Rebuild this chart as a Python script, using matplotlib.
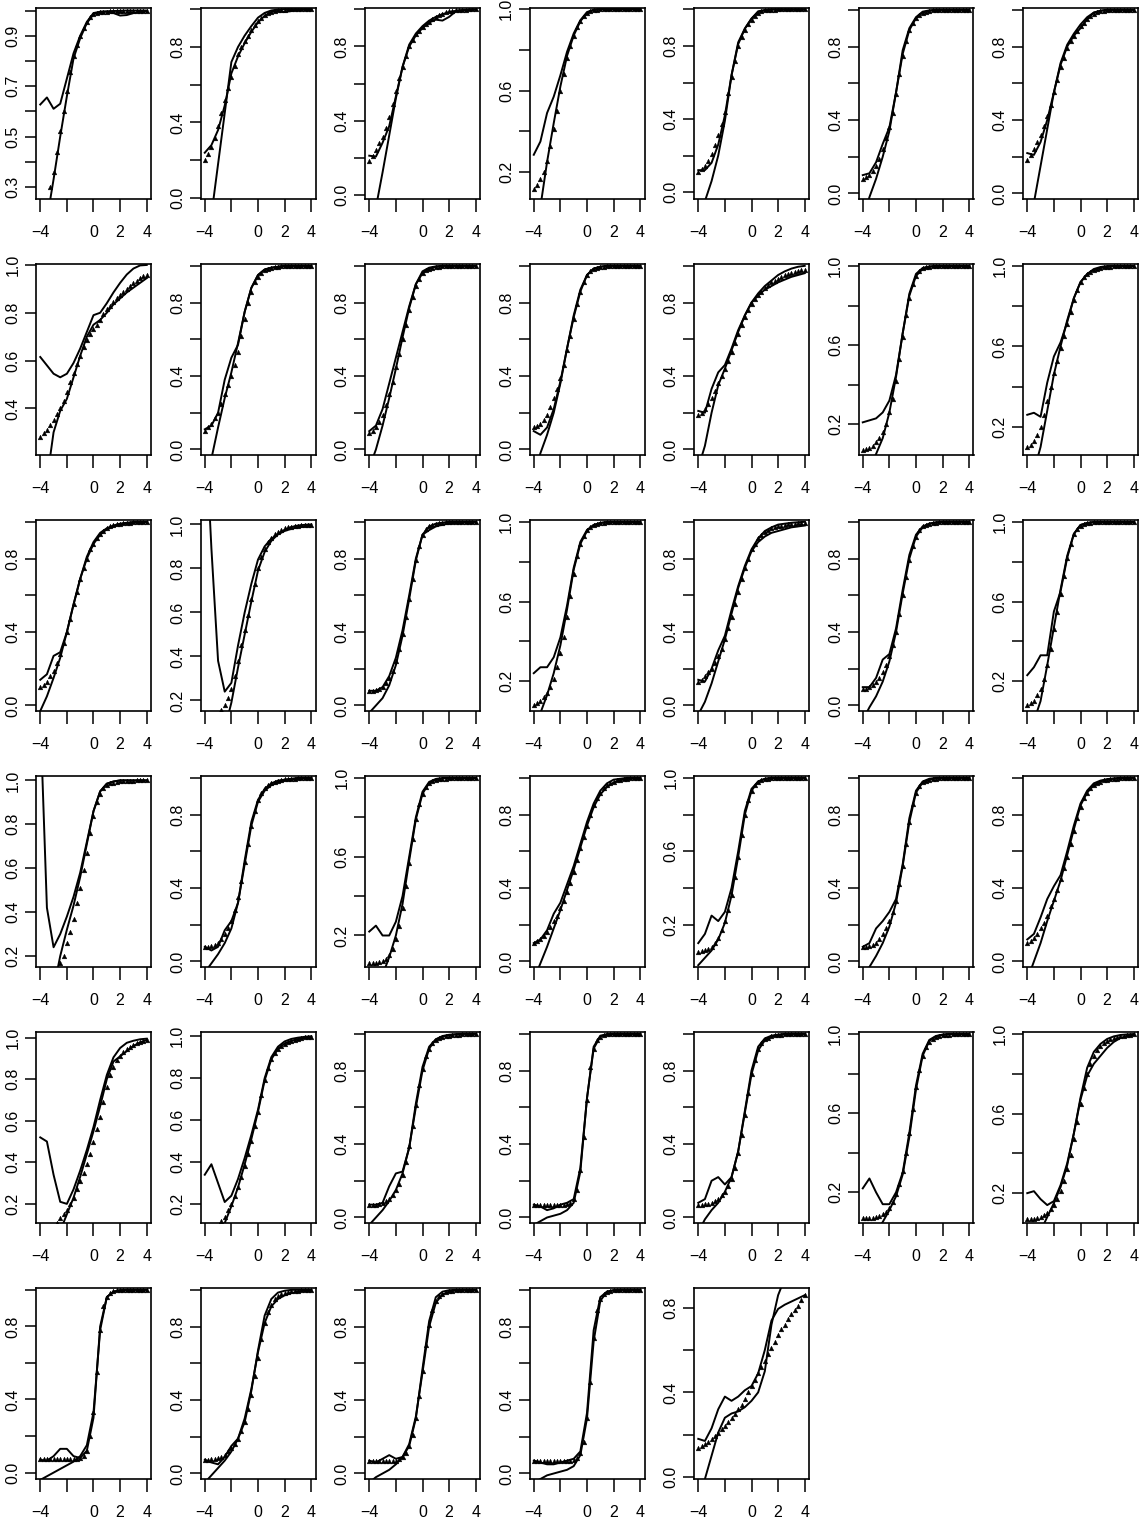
import numpy as np
import matplotlib
matplotlib.use("Agg")
import matplotlib.pyplot as plt

nan = np.nan
X_LINE = np.arange(-4, 4.001, 0.5)    # 17 points
X_DOT = np.arange(-4, 4.001, 0.25)    # 33 points

# wiggly (nonparametric) curve per panel
SMOOTH = [
 [0.627,0.655,0.61,0.63,0.73,0.83,0.9,0.955,0.99,0.995,0.995,0.99,0.98,0.982,0.99,0.995,0.998],
 [0.24,0.28,0.36,0.49,0.66,0.75,0.82,0.88,0.93,0.965,0.985,0.99,0.985,0.99,0.995,0.998,1.0],
 [0.21,0.205,0.28,0.37,0.53,0.69,0.8,0.86,0.9,0.93,0.945,0.94,0.96,0.99,0.995,0.998,1.0],
 [0.285,0.35,0.49,0.57,0.675,0.79,0.88,0.945,0.985,0.997,1,1,1,1,1,1,1],
 [0.12,0.12,0.16,0.26,0.42,0.64,0.81,0.895,0.95,0.99,0.997,1,1,1,1,1,1],
 [0.1,0.11,0.17,0.27,0.36,0.55,0.78,0.9,0.96,0.99,0.997,1,1,1,1,1,1],
 [0.22,0.21,0.28,0.4,0.55,0.7,0.8,0.86,0.9,0.95,0.985,0.995,1,1,1,1,1],
 [0.615,0.58,0.545,0.53,0.545,0.59,0.65,0.72,0.79,0.8,0.84,0.885,0.925,0.96,0.985,0.998,1.0],
 [0.11,0.13,0.2,0.38,0.5,0.57,0.75,0.88,0.95,0.98,0.99,0.995,1,1,1,1,1],
 [0.1,0.13,0.22,0.36,0.5,0.64,0.78,0.9,0.97,0.99,0.997,1,1,1,1,1,1],
 [0.1,0.08,0.12,0.22,0.37,0.55,0.72,0.86,0.95,0.985,0.995,1,1,1,1,1,1],
 [0.21,0.2,0.33,0.42,0.46,0.55,0.65,0.73,0.8,0.85,0.89,0.92,0.95,0.97,0.985,0.995,1.0],
 [0.21,0.22,0.23,0.26,0.32,0.45,0.66,0.86,0.96,0.99,0.998,1,1,1,1,1,1],
 [0.26,0.27,0.25,0.42,0.55,0.62,0.72,0.84,0.92,0.96,0.985,0.995,1,1,1,1,1],
 [0.14,0.17,0.27,0.29,0.4,0.55,0.69,0.81,0.89,0.94,0.965,0.98,0.99,0.995,1,1,1],
 [1.5,0.89,0.38,0.24,0.28,0.45,0.6,0.73,0.84,0.9,0.935,0.955,0.97,0.98,0.987,0.99,0.993],
 [0.08,0.08,0.1,0.16,0.26,0.41,0.6,0.8,0.93,0.955,0.975,0.985,0.99,0.995,0.998,1,1],
 [0.24,0.27,0.27,0.32,0.42,0.58,0.77,0.9,0.96,0.985,0.995,1,1,1,1,1,1],
 [0.14,0.13,0.2,0.3,0.38,0.52,0.65,0.76,0.85,0.91,0.95,0.97,0.985,0.99,0.995,0.998,1.0],
 [0.1,0.1,0.15,0.25,0.28,0.42,0.63,0.82,0.93,0.975,0.99,0.997,1,1,1,1,1],
 [0.23,0.27,0.33,0.33,0.55,0.65,0.82,0.94,0.985,0.995,1,1,1,1,1,1,1],
 [1.3,0.42,0.24,0.3,0.38,0.47,0.58,0.72,0.86,0.95,0.985,0.995,1,1,1,1,1],
 [0.08,0.06,0.08,0.17,0.22,0.32,0.55,0.76,0.88,0.94,0.97,0.985,0.99,0.995,1,1,1],
 [0.22,0.25,0.2,0.2,0.27,0.4,0.6,0.8,0.93,0.98,0.995,1,1,1,1,1,1],
 [0.1,0.12,0.17,0.26,0.32,0.42,0.52,0.64,0.76,0.86,0.93,0.97,0.99,0.995,1,1,1],
 [0.1,0.15,0.25,0.22,0.27,0.4,0.6,0.82,0.94,0.98,0.995,1,1,1,1,1,1],
 [0.08,0.1,0.18,0.22,0.27,0.34,0.53,0.78,0.93,0.98,0.995,1,1,1,1,1,1],
 [0.12,0.15,0.24,0.34,0.41,0.47,0.6,0.74,0.86,0.93,0.97,0.985,0.993,0.997,1,1,1],
 [0.52,0.5,0.34,0.21,0.2,0.27,0.36,0.46,0.57,0.7,0.82,0.905,0.95,0.975,0.985,0.992,0.995],
 [0.34,0.39,0.3,0.21,0.24,0.32,0.42,0.53,0.65,0.8,0.9,0.95,0.975,0.987,0.993,0.997,1.0],
 [0.07,0.07,0.08,0.17,0.24,0.25,0.38,0.62,0.82,0.93,0.97,0.985,0.993,0.997,1,1,1],
 [0.07,0.06,0.04,0.05,0.07,0.08,0.1,0.27,0.65,0.92,0.985,0.997,1,1,1,1,1],
 [0.08,0.1,0.2,0.22,0.18,0.22,0.36,0.58,0.8,0.93,0.975,0.99,0.996,1,1,1,1],
 [0.22,0.27,0.2,0.14,0.14,0.2,0.3,0.5,0.74,0.9,0.97,0.99,0.997,1,1,1,1],
 [0.2,0.21,0.17,0.14,0.16,0.24,0.35,0.5,0.67,0.79,0.85,0.89,0.93,0.96,0.98,0.99,0.995],
 [0.07,0.065,0.09,0.13,0.13,0.09,0.08,0.12,0.3,0.8,0.96,0.99,0.997,1,1,1,1],
 [0.075,0.06,0.05,0.09,0.15,0.19,0.28,0.45,0.67,0.86,0.95,0.985,0.995,1,1,1,1],
 [0.07,0.06,0.08,0.1,0.08,0.09,0.15,0.3,0.57,0.83,0.96,0.99,0.998,1,1,1,1],
 [0.07,0.06,0.05,0.05,0.06,0.07,0.08,0.12,0.33,0.78,0.96,0.99,0.998,1,1,1,1],
 [0.18,0.17,0.23,0.32,0.38,0.36,0.38,0.41,0.43,0.49,0.6,0.74,0.795,0.815,0.83,0.845,0.86],
]

# parametric curve per panel (drops steeply at the left)
STEEP = [
 [0.0,0.17,0.33,0.5,0.66,0.81,0.89,0.95,0.985,0.995,0.997,0.998,0.999,1,1,1,1],
 [-0.36,-0.09,0.18,0.45,0.72,0.8,0.86,0.91,0.955,0.98,0.993,0.998,1,1,1,1,1],
 [-0.2,-0.07,0.12,0.32,0.52,0.69,0.81,0.87,0.91,0.94,0.96,0.975,0.985,0.993,0.997,0.999,1.0],
 [-0.15,0.03,0.25,0.44,0.62,0.77,0.87,0.94,0.98,0.995,1,1,1,1,1,1,1],
 [-0.18,-0.05,0.06,0.2,0.39,0.64,0.82,0.895,0.95,0.985,0.996,1,1,1,1,1,1],
 [-0.15,-0.02,0.08,0.2,0.34,0.55,0.76,0.89,0.955,0.985,0.995,1,1,1,1,1,1],
 [-0.2,-0.05,0.15,0.35,0.55,0.71,0.81,0.87,0.92,0.96,0.985,0.995,1,1,1,1,1],
 [-0.05,0.1,0.3,0.39,0.44,0.53,0.62,0.7,0.75,0.77,0.8,0.835,0.86,0.885,0.905,0.925,0.945],
 [-0.25,-0.05,0.12,0.28,0.42,0.58,0.75,0.88,0.95,0.98,0.99,0.995,1,1,1,1,1],
 [-0.1,0.0,0.13,0.28,0.44,0.61,0.77,0.9,0.96,0.985,0.995,1,1,1,1,1,1],
 [-0.15,-0.02,0.08,0.2,0.36,0.55,0.73,0.87,0.95,0.985,0.995,1,1,1,1,1,1],
 [-0.1,0.02,0.2,0.35,0.44,0.54,0.64,0.73,0.8,0.84,0.87,0.89,0.91,0.925,0.94,0.95,0.96],
 [-0.1,-0.02,0.05,0.13,0.26,0.44,0.66,0.85,0.95,0.985,0.996,1,1,1,1,1,1],
 [-0.15,-0.02,0.1,0.28,0.46,0.6,0.73,0.84,0.92,0.96,0.98,0.99,0.995,1,1,1,1],
 [-0.03,0.05,0.15,0.26,0.4,0.55,0.69,0.8,0.88,0.93,0.96,0.975,0.985,0.99,0.995,0.998,1.0],
 [-0.9,-0.6,-0.2,0.07,0.19,0.35,0.5,0.65,0.79,0.875,0.925,0.955,0.975,0.988,0.995,0.998,1.0],
 [-0.04,0.0,0.04,0.11,0.22,0.38,0.58,0.79,0.93,0.975,0.99,0.996,1,1,1,1,1],
 [-0.05,0.04,0.13,0.24,0.38,0.56,0.76,0.89,0.955,0.985,0.995,1,1,1,1,1,1],
 [-0.05,0.02,0.12,0.24,0.36,0.5,0.64,0.75,0.84,0.89,0.92,0.94,0.95,0.96,0.97,0.975,0.98],
 [-0.08,-0.01,0.05,0.13,0.24,0.4,0.61,0.8,0.92,0.97,0.99,0.997,1,1,1,1,1],
 [-0.1,0.0,0.1,0.28,0.47,0.66,0.83,0.94,0.985,0.995,1,1,1,1,1,1,1],
 [-0.6,-0.3,0.05,0.2,0.32,0.43,0.56,0.71,0.86,0.95,0.985,0.995,1,1,1,1,1],
 [-0.06,-0.01,0.04,0.1,0.18,0.32,0.53,0.74,0.87,0.93,0.96,0.975,0.985,0.99,0.995,0.998,1.0],
 [-0.15,-0.07,0.0,0.09,0.2,0.36,0.58,0.79,0.92,0.975,0.99,0.997,1,1,1,1,1],
 [-0.1,-0.01,0.08,0.18,0.28,0.39,0.5,0.62,0.74,0.84,0.91,0.95,0.975,0.987,0.994,0.997,1.0],
 [-0.02,0.02,0.06,0.12,0.21,0.36,0.57,0.8,0.93,0.98,0.994,0.998,1,1,1,1,1],
 [-0.1,-0.03,0.03,0.1,0.19,0.32,0.52,0.76,0.92,0.975,0.99,0.997,1,1,1,1,1],
 [-0.1,0.0,0.1,0.22,0.33,0.44,0.58,0.72,0.85,0.92,0.96,0.98,0.99,0.995,0.998,1,1],
 [-0.3,-0.17,-0.03,0.07,0.15,0.23,0.33,0.44,0.55,0.67,0.8,0.885,0.91,0.935,0.96,0.977,0.989],
 [-0.25,-0.1,0.02,0.11,0.19,0.28,0.39,0.51,0.64,0.79,0.89,0.94,0.965,0.978,0.986,0.992,0.996],
 [-0.04,0.0,0.04,0.09,0.15,0.24,0.38,0.6,0.8,0.92,0.97,0.988,0.995,0.998,1,1,1],
 [-0.04,-0.02,0.0,0.01,0.02,0.04,0.08,0.25,0.65,0.93,0.99,0.998,1,1,1,1,1],
 [-0.08,-0.01,0.04,0.08,0.14,0.22,0.36,0.57,0.78,0.91,0.965,0.985,0.993,0.997,1,1,1],
 [-0.15,-0.07,0.0,0.05,0.11,0.18,0.29,0.48,0.72,0.89,0.965,0.988,0.996,1,1,1,1],
 [-0.15,-0.07,0.01,0.08,0.15,0.23,0.34,0.5,0.68,0.83,0.91,0.95,0.975,0.988,0.995,0.998,1.0],
 [-0.04,-0.02,0.0,0.02,0.04,0.06,0.09,0.15,0.33,0.78,0.96,0.99,0.998,1,1,1,1],
 [-0.05,-0.01,0.03,0.07,0.12,0.19,0.3,0.46,0.66,0.82,0.91,0.95,0.97,0.982,0.99,0.995,0.997],
 [-0.05,-0.02,0.0,0.02,0.05,0.09,0.16,0.31,0.55,0.8,0.93,0.975,0.99,0.997,1,1,1],
 [-0.05,-0.03,-0.01,0.0,0.01,0.02,0.04,0.1,0.3,0.72,0.94,0.99,0.998,1,1,1,1],
 [-0.12,-0.01,0.1,0.21,0.28,0.3,0.31,0.33,0.36,0.4,0.5,0.72,0.86,0.94,0.98,0.995,1.0],
]

# observed proportions (small triangles)
DOTS = [
 [nan,nan,nan,0.30,0.36,0.44,0.52,0.60,0.68,0.755,0.82,0.865,0.9,0.93,0.955,0.975,0.985,0.99,0.993,0.995,0.996,0.997,0.998,0.998,0.999,0.999,1,1,1,1,1,1,1],
 [0.2,0.235,0.27,0.32,0.38,0.45,0.52,0.58,0.64,0.70,0.76,0.80,0.83,0.86,0.89,0.915,0.935,0.955,0.97,0.98,0.987,0.992,0.995,0.997,0.998,0.999,1,1,1,1,1,1,1],
 [0.18,0.21,0.24,0.28,0.31,0.36,0.42,0.49,0.56,0.63,0.69,0.75,0.8,0.835,0.865,0.885,0.905,0.92,0.935,0.95,0.96,0.97,0.978,0.985,0.99,0.993,0.995,0.997,0.998,0.999,1,1,1],
 [0.115,0.135,0.165,0.2,0.255,0.33,0.41,0.5,0.6,0.68,0.76,0.82,0.87,0.91,0.94,0.965,0.98,0.99,0.995,0.997,0.998,0.999,1,1,1,1,1,1,1,1,1,1,1],
 [0.11,0.125,0.14,0.17,0.21,0.255,0.31,0.37,0.44,0.54,0.63,0.72,0.8,0.85,0.89,0.92,0.945,0.965,0.98,0.99,0.995,0.997,0.998,0.999,1,1,1,1,1,1,1,1,1],
 [0.08,0.09,0.1,0.12,0.15,0.19,0.24,0.3,0.36,0.44,0.54,0.65,0.75,0.83,0.89,0.93,0.955,0.972,0.985,0.99,0.995,0.997,0.998,0.999,1,1,1,1,1,1,1,1,1],
 [0.18,0.21,0.24,0.28,0.32,0.37,0.42,0.48,0.55,0.62,0.69,0.74,0.79,0.83,0.86,0.885,0.91,0.93,0.95,0.965,0.978,0.987,0.993,0.996,0.998,0.999,1,1,1,1,1,1,1],
 [0.28,0.295,0.31,0.33,0.35,0.375,0.4,0.43,0.47,0.51,0.55,0.585,0.62,0.655,0.685,0.71,0.73,0.75,0.77,0.795,0.815,0.83,0.845,0.86,0.875,0.888,0.9,0.912,0.923,0.934,0.945,0.953,0.96],
 [0.1,0.12,0.14,0.17,0.2,0.25,0.3,0.35,0.4,0.46,0.53,0.62,0.71,0.8,0.86,0.91,0.94,0.96,0.975,0.985,0.99,0.993,0.996,0.998,0.999,1,1,1,1,1,1,1,1],
 [0.09,0.1,0.12,0.15,0.19,0.24,0.3,0.37,0.45,0.52,0.6,0.68,0.76,0.83,0.89,0.93,0.96,0.975,0.985,0.99,0.994,0.996,0.998,0.999,1,1,1,1,1,1,1,1,1],
 [0.12,0.13,0.14,0.16,0.19,0.23,0.28,0.33,0.39,0.46,0.54,0.62,0.71,0.79,0.86,0.91,0.95,0.97,0.982,0.99,0.994,0.996,0.998,0.999,1,1,1,1,1,1,1,1,1],
 [0.19,0.2,0.22,0.25,0.28,0.32,0.36,0.4,0.44,0.48,0.53,0.58,0.63,0.68,0.72,0.76,0.79,0.82,0.84,0.86,0.88,0.895,0.91,0.92,0.93,0.94,0.95,0.955,0.96,0.965,0.97,0.975,0.98],
 [0.07,0.075,0.08,0.09,0.11,0.13,0.16,0.2,0.26,0.33,0.42,0.53,0.64,0.75,0.84,0.91,0.95,0.975,0.988,0.994,0.997,0.998,0.999,1,1,1,1,1,1,1,1,1,1],
 [0.1,0.11,0.13,0.16,0.2,0.26,0.33,0.4,0.47,0.53,0.59,0.65,0.71,0.77,0.83,0.88,0.92,0.945,0.96,0.972,0.98,0.986,0.99,0.993,0.995,0.997,0.998,0.999,1,1,1,1,1],
 [0.1,0.11,0.13,0.16,0.19,0.23,0.28,0.34,0.4,0.47,0.55,0.62,0.69,0.75,0.8,0.85,0.88,0.91,0.935,0.95,0.965,0.975,0.982,0.987,0.99,0.993,0.995,0.996,0.997,0.998,0.999,1,1],
 [nan,nan,nan,nan,nan,0.158,0.18,0.21,0.25,0.31,0.38,0.45,0.52,0.59,0.66,0.73,0.8,0.85,0.89,0.92,0.94,0.955,0.965,0.975,0.982,0.987,0.99,0.993,0.995,0.996,0.997,0.998,0.999],
 [0.08,0.08,0.085,0.09,0.1,0.12,0.15,0.19,0.24,0.31,0.39,0.48,0.58,0.69,0.79,0.87,0.93,0.96,0.975,0.985,0.99,0.993,0.995,0.997,0.998,0.999,1,1,1,1,1,1,1],
 [0.08,0.09,0.1,0.12,0.14,0.17,0.21,0.27,0.34,0.42,0.52,0.63,0.74,0.83,0.89,0.93,0.96,0.975,0.985,0.99,0.995,0.997,0.998,0.999,1,1,1,1,1,1,1,1,1],
 [0.13,0.14,0.16,0.18,0.2,0.23,0.27,0.31,0.36,0.42,0.48,0.55,0.62,0.69,0.75,0.8,0.85,0.88,0.91,0.93,0.945,0.955,0.965,0.97,0.975,0.98,0.983,0.986,0.988,0.99,0.992,0.994,0.995],
 [0.09,0.09,0.1,0.11,0.13,0.15,0.18,0.22,0.27,0.33,0.4,0.5,0.6,0.7,0.79,0.87,0.92,0.955,0.975,0.985,0.99,0.994,0.996,0.998,0.999,1,1,1,1,1,1,1,1],
 [0.08,0.09,0.1,0.13,0.16,0.21,0.28,0.36,0.46,0.55,0.64,0.73,0.82,0.89,0.94,0.965,0.98,0.99,0.995,0.997,0.998,0.999,1,1,1,1,1,1,1,1,1,1,1],
 [nan,nan,nan,nan,nan,nan,0.17,0.2,0.26,0.31,0.37,0.44,0.51,0.59,0.67,0.76,0.84,0.9,0.94,0.965,0.98,0.987,0.99,0.993,0.995,0.996,0.997,0.998,0.999,1,1,1,1],
 [0.08,0.08,0.085,0.09,0.1,0.12,0.15,0.18,0.22,0.28,0.35,0.44,0.54,0.64,0.74,0.82,0.88,0.92,0.945,0.96,0.97,0.978,0.984,0.988,0.991,0.993,0.995,0.996,0.997,0.998,0.999,1,1],
 [0.06,0.06,0.062,0.065,0.07,0.08,0.1,0.13,0.18,0.25,0.34,0.45,0.57,0.69,0.79,0.87,0.92,0.955,0.975,0.985,0.99,0.994,0.996,0.997,0.998,0.999,1,1,1,1,1,1,1],
 [0.1,0.11,0.12,0.14,0.16,0.19,0.22,0.25,0.29,0.33,0.38,0.43,0.49,0.55,0.62,0.68,0.74,0.8,0.85,0.89,0.92,0.945,0.96,0.972,0.98,0.986,0.99,0.993,0.995,0.997,0.998,0.999,1.0],
 [0.05,0.055,0.06,0.07,0.08,0.1,0.13,0.17,0.22,0.28,0.36,0.46,0.57,0.69,0.8,0.88,0.93,0.96,0.978,0.987,0.992,0.995,0.997,0.998,0.999,1,1,1,1,1,1,1,1],
 [0.08,0.08,0.085,0.09,0.1,0.12,0.15,0.18,0.22,0.27,0.33,0.42,0.52,0.64,0.76,0.86,0.92,0.955,0.975,0.985,0.99,0.994,0.996,0.998,0.999,1,1,1,1,1,1,1,1],
 [0.1,0.11,0.13,0.15,0.18,0.21,0.25,0.3,0.34,0.39,0.45,0.51,0.57,0.64,0.71,0.78,0.84,0.89,0.92,0.945,0.96,0.972,0.98,0.986,0.99,0.993,0.995,0.996,0.997,0.998,0.999,1,1],
 [nan,nan,nan,nan,nan,0.11,0.13,0.15,0.17,0.2,0.23,0.27,0.31,0.35,0.39,0.44,0.5,0.56,0.62,0.69,0.76,0.82,0.86,0.89,0.91,0.93,0.945,0.955,0.965,0.972,0.978,0.984,0.99],
 [nan,nan,nan,nan,nan,0.12,0.14,0.17,0.2,0.24,0.28,0.33,0.38,0.44,0.5,0.57,0.64,0.72,0.79,0.85,0.89,0.92,0.94,0.955,0.965,0.973,0.979,0.984,0.988,0.991,0.994,0.996,0.998],
 [0.07,0.07,0.07,0.075,0.08,0.09,0.1,0.12,0.15,0.18,0.23,0.3,0.39,0.5,0.61,0.72,0.81,0.88,0.92,0.95,0.965,0.975,0.982,0.987,0.99,0.993,0.995,0.996,0.997,0.998,0.999,1,1],
 [0.07,0.07,0.07,0.07,0.07,0.07,0.07,0.07,0.07,0.07,0.075,0.08,0.1,0.15,0.26,0.44,0.64,0.82,0.92,0.965,0.985,0.993,0.997,0.999,1,1,1,1,1,1,1,1,1],
 [0.07,0.07,0.072,0.075,0.08,0.09,0.1,0.12,0.14,0.17,0.21,0.27,0.35,0.45,0.56,0.68,0.78,0.86,0.92,0.95,0.97,0.98,0.987,0.991,0.994,0.996,0.997,0.998,0.999,1,1,1,1],
 [0.07,0.07,0.07,0.072,0.075,0.08,0.09,0.1,0.12,0.15,0.19,0.24,0.31,0.4,0.5,0.62,0.73,0.82,0.89,0.935,0.96,0.975,0.985,0.99,0.994,0.996,0.997,0.998,0.999,1,1,1,1],
 [0.07,0.07,0.072,0.075,0.08,0.09,0.1,0.12,0.14,0.17,0.21,0.26,0.32,0.39,0.47,0.56,0.65,0.73,0.8,0.85,0.89,0.92,0.94,0.955,0.965,0.973,0.98,0.985,0.989,0.992,0.995,0.997,0.998],
 [0.075,0.075,0.075,0.075,0.075,0.075,0.075,0.075,0.075,0.075,0.075,0.075,0.08,0.09,0.12,0.2,0.33,0.55,0.78,0.91,0.96,0.985,0.993,0.997,0.998,0.999,1,1,1,1,1,1,1],
 [0.075,0.075,0.077,0.08,0.085,0.09,0.1,0.12,0.14,0.16,0.19,0.23,0.28,0.35,0.43,0.53,0.63,0.73,0.82,0.88,0.92,0.95,0.965,0.975,0.983,0.988,0.991,0.994,0.996,0.997,0.998,0.999,1.0],
 [0.07,0.07,0.07,0.07,0.07,0.07,0.07,0.07,0.07,0.08,0.09,0.11,0.15,0.21,0.3,0.42,0.56,0.7,0.81,0.89,0.94,0.965,0.98,0.988,0.993,0.996,0.998,0.999,1,1,1,1,1],
 [0.07,0.07,0.07,0.07,0.07,0.07,0.07,0.07,0.07,0.07,0.07,0.07,0.075,0.085,0.11,0.17,0.3,0.5,0.74,0.89,0.95,0.975,0.99,0.995,0.997,0.998,0.999,1,1,1,1,1,1],
 [0.135,0.145,0.155,0.165,0.18,0.195,0.21,0.225,0.24,0.26,0.28,0.3,0.32,0.34,0.37,0.4,0.43,0.46,0.49,0.52,0.55,0.58,0.61,0.64,0.67,0.7,0.72,0.745,0.77,0.79,0.81,0.835,0.86],
]

Y_LO = [0.252,-0.005,-0.024,0.068,-0.038,-0.03,-0.03,
        0.205,-0.03,-0.03,-0.03,-0.03,0.045,0.06,
        -0.03,0.152,-0.03,0.05,-0.03,-0.03,0.05,
        0.15,-0.03,0.04,-0.03,-0.03,-0.03,-0.03,
        0.108,0.11,-0.03,-0.03,-0.03,0.045,0.05,
        -0.035,-0.03,-0.03,-0.03,-0.01]
Y_HI = [1.01,1.006,1.008,1.005,1.008,1.01,1.01,
        1.004,1.01,1.01,1.01,1.01,1.01,1.01,
        1.01,1.02,1.01,1.01,1.01,1.01,1.01,
        1.02,1.01,1.01,1.01,1.01,1.01,1.01,
        1.027,1.02,1.01,1.01,1.01,1.01,1.01,
        1.01,1.01,1.01,1.01,0.894]
# tick style: a = 0.0..1.0 by .2 labels 0.0/0.4/0.8 ; b = 0.2..1.0 labels 0.2/0.6/1.0
# c = 0.2..1.0 all labelled ; d = 0.3..1.0 by .1 labels 0.3/.5/.7/.9 ; e = 0.4..1.0 all labelled
TICK_STYLE = list("daabaaa" "eaaaabb" "acabaab" "cababaa" "ccaaabb" "aaaaa")

X_TICKS = [-4, -2, 0, 2, 4]
X_TICKLABELS = ["\u22124", "", "0", "2", "4"]

STYLES = {
    "a": ([0.0, 0.2, 0.4, 0.6, 0.8, 1.0], 2),
    "b": ([0.2, 0.4, 0.6, 0.8, 1.0], 2),
    "c": ([0.2, 0.4, 0.6, 0.8, 1.0], 1),
    "d": ([0.3, 0.4, 0.5, 0.6, 0.7, 0.8, 0.9, 1.0], 2),
    "e": ([0.4, 0.6, 0.8, 1.0], 1),
}

plt.rcParams["font.family"] = ["Liberation Sans", "DejaVu Sans"]
W, H = 1142, 1519
fig = plt.figure(figsize=(W / 100, H / 100), dpi=100)

BOX_W, BOX_H = 115, 191
for i in range(40):
    r, c = divmod(i, 7)
    left = 36 + 164.5 * c
    top = 8 + 256 * r
    ax = fig.add_axes([left / W, 1 - (top + BOX_H) / H, BOX_W / W, BOX_H / H])
    ax.plot(X_LINE, SMOOTH[i], color="black", lw=1.4, solid_joinstyle="round")
    ax.plot(X_LINE, STEEP[i], color="black", lw=1.4, solid_joinstyle="round")
    ax.plot(X_DOT, DOTS[i], linestyle="none", marker="^", markersize=3.4,
            markerfacecolor="black", markeredgecolor="black", markeredgewidth=0.3)
    ax.set_xlim(-4.32, 4.32)
    ax.set_ylim(Y_LO[i], Y_HI[i])
    ticks, stride = STYLES[TICK_STYLE[i]]
    ticks = [t for t in ticks if Y_LO[i] <= t <= Y_HI[i] + 1e-9]
    labels = [f"{t:.1f}" if k % stride == 0 else "" for k, t in enumerate(ticks)]
    ax.set_yticks(ticks)
    ax.set_yticklabels(labels)
    ax.set_xticks(X_TICKS)
    ax.set_xticklabels(X_TICKLABELS)
    for sp in ax.spines.values():
        sp.set_linewidth(1.2)
    ax.tick_params(axis="x", direction="out", length=9, width=1.1, pad=10, labelsize=11.5)
    ax.tick_params(axis="y", direction="out", length=8, width=1.1, pad=3, labelsize=11.5)
    for t in ax.get_yticklabels():
        t.set_rotation(90)
        t.set_va("center")

fig.savefig("out.png", dpi=100)
